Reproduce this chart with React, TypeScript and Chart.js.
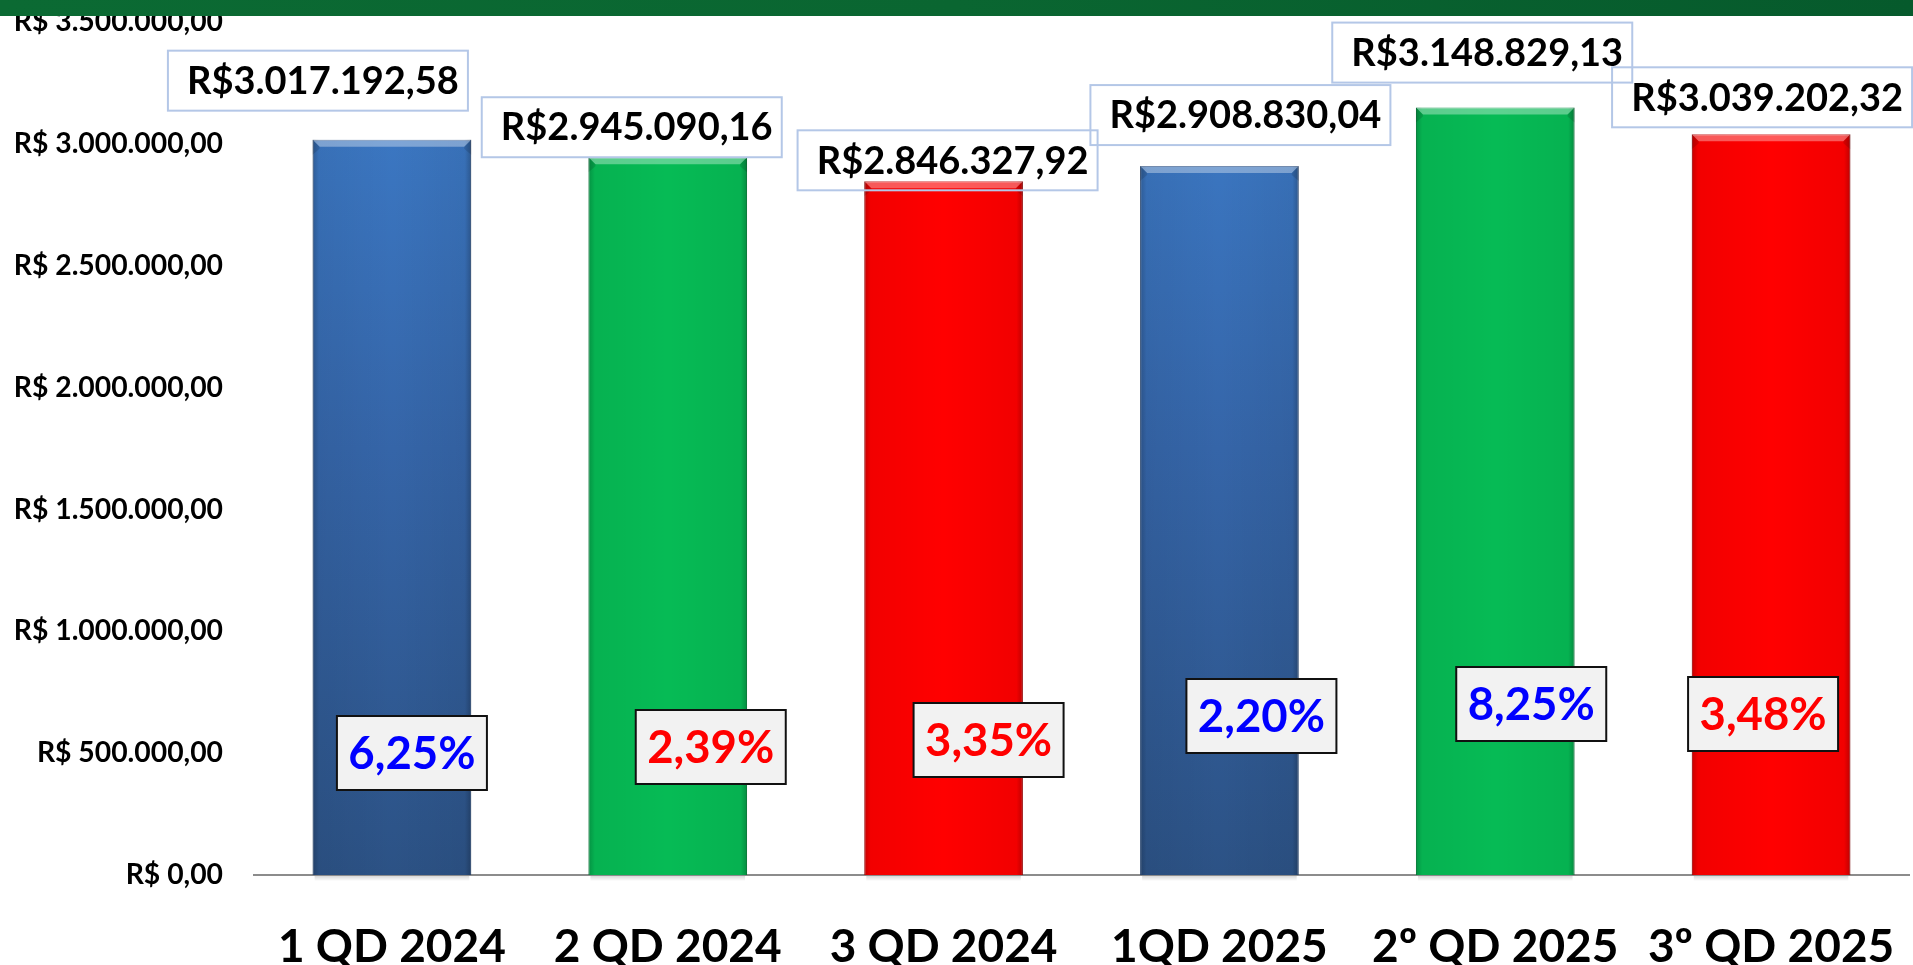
import React, { useEffect, useRef } from "react";
import { Chart, registerables } from "chart.js";

Chart.register(...registerables);

// ---- data ----
const categories = ["1 QD 2024", "2 QD 2024", "3 QD 2024", "1QD 2025", "2º QD 2025", "3º QD 2025"];
const values = [3017192.58, 2945090.16, 2846327.92, 2908830.04, 3148829.13, 3039202.32];
const percentLabels = ["6,25%", "2,39%", "3,35%", "2,20%", "8,25%", "3,48%"];
const percentColors = ["#0000ff", "#ff0000", "#ff0000", "#0000ff", "#0000ff", "#ff0000"];
const barKinds = ["blue", "green", "red", "blue", "green", "red"];
const yMin = 0;
const yMax = 3500000;
const yStep = 500000;

// ---- layout (px offsets of the annotation boxes relative to each bar) ----
const valueLabelOffsets = [[-74, -59], [-36, -30], [4, -21], [21, -51], [-13, -55], [-9, -37]];
const percentLabelOffsets = [[20, -122], [43, -128], [45, -135], [42, -159], [36, -171], [-8, -161]];

const FONT = "Lato, 'Liberation Sans', sans-serif";

function fmtBRL(n: number, space: boolean): string {
  const fixed = n.toFixed(2);
  const [intPart, dec] = fixed.split(".");
  const dotted = intPart.replace(/\B(?=(\d{3})+(?!\d))/g, ".");
  return "R$" + (space ? " " : "") + dotted + "," + dec;
}

const fillFor: Record<string, string> = { blue: "#3a72bb", green: "#06bb55", red: "#ff0000" };
const edgeFor: Record<string, string> = { blue: "#2a5188", green: "#049a45", red: "#c80000" };

const decorPlugin = {
  id: "decor",
  afterDatasetsDraw(chart: any) {
    const ctx: CanvasRenderingContext2D = chart.ctx;
    const meta = chart.getDatasetMeta(0);
    meta.data.forEach((bar: any) => {
      const { x, y, base, width } = bar.getProps(["x", "y", "base", "width"], true);
      const left = x - width / 2;
      const right = x + width / 2;
      const b = 7;
      ctx.save();
      const sideGrad = ctx.createLinearGradient(left, 0, right, 0);
      sideGrad.addColorStop(0, "rgba(0,0,0,0.22)");
      sideGrad.addColorStop(0.04, "rgba(0,0,0,0.05)");
      sideGrad.addColorStop(0.5, "rgba(0,0,0,0)");
      sideGrad.addColorStop(0.96, "rgba(0,0,0,0.05)");
      sideGrad.addColorStop(1, "rgba(0,0,0,0.25)");
      ctx.fillStyle = sideGrad;
      ctx.fillRect(left, y, width, base - y);
      ctx.fillStyle = "rgba(255,255,255,0.35)";
      ctx.beginPath();
      ctx.moveTo(left, y);
      ctx.lineTo(right, y);
      ctx.lineTo(right - b, y + b);
      ctx.lineTo(left + b, y + b);
      ctx.closePath();
      ctx.fill();
      ctx.fillStyle = "rgba(0,0,0,0.12)";
      ctx.beginPath();
      ctx.moveTo(left, y);
      ctx.lineTo(left + b, y + b);
      ctx.lineTo(left + b, y + b + 2);
      ctx.lineTo(left, y + b + 8);
      ctx.closePath();
      ctx.fill();
      ctx.beginPath();
      ctx.moveTo(right, y);
      ctx.lineTo(right - b, y + b);
      ctx.lineTo(right - b, y + b + 2);
      ctx.lineTo(right, y + b + 8);
      ctx.closePath();
      ctx.fill();
      const sh = ctx.createLinearGradient(0, base, 0, base + 6);
      sh.addColorStop(0, "rgba(0,0,0,0.18)");
      sh.addColorStop(1, "rgba(0,0,0,0)");
      ctx.fillStyle = sh;
      ctx.fillRect(left + 2, base + 1, width - 4, 6);
      ctx.restore();
    });

    // value labels
    meta.data.forEach((bar: any, i: number) => {
      const { x, y } = bar.getProps(["x", "y"], true);
      const cx = x + valueLabelOffsets[i][0];
      const cy = y + valueLabelOffsets[i][1];
      const w = 300;
      const h = 60;
      ctx.save();
      ctx.strokeStyle = "#b4c7e7";
      ctx.lineWidth = 2;
      ctx.strokeRect(cx - w / 2, cy - h / 2, w, h);
      ctx.fillStyle = "#000000";
      ctx.font = `bold 38px ${FONT}`;
      ctx.textAlign = "center";
      ctx.textBaseline = "middle";
      ctx.fillText(fmtBRL(values[i], false), cx + 5, cy + 1);
      ctx.restore();
    });

    // percent labels
    meta.data.forEach((bar: any, i: number) => {
      const { x, base } = bar.getProps(["x", "base"], true);
      const cx = x + percentLabelOffsets[i][0];
      const cy = base + percentLabelOffsets[i][1];
      const w = 150;
      const h = 74;
      ctx.save();
      ctx.fillStyle = "#f2f2f2";
      ctx.fillRect(cx - w / 2, cy - h / 2, w, h);
      ctx.strokeStyle = "#111111";
      ctx.lineWidth = 2;
      ctx.strokeRect(cx - w / 2, cy - h / 2, w, h);
      ctx.fillStyle = percentColors[i];
      ctx.font = `bold 45.5px ${FONT}`;
      ctx.textAlign = "center";
      ctx.textBaseline = "middle";
      ctx.fillText(percentLabels[i], cx, cy + 1);
      ctx.restore();
    });
  },
  afterDraw(chart: any) {
    const ctx: CanvasRenderingContext2D = chart.ctx;
    const g = ctx.createLinearGradient(0, 0, chart.width, 0);
    g.addColorStop(0, "#0b6a33");
    g.addColorStop(0.5, "#0a6631");
    g.addColorStop(1, "#065a2c");
    ctx.save();
    ctx.fillStyle = g;
    ctx.fillRect(0, 0, chart.width, 16);
    ctx.restore();
  },
};

export default function App() {
  const canvasRef = useRef<HTMLCanvasElement | null>(null);

  useEffect(() => {
    document.body.style.margin = "0";
    document.body.style.overflow = "hidden";
    const canvas = canvasRef.current;
    if (!canvas) return;

    const bg = (c: any) => {
      const kind = barKinds[c.dataIndex];
      if (kind === "blue") {
        const area = c.chart.chartArea;
        if (!area) return fillFor.blue;
        const g = c.chart.ctx.createLinearGradient(0, area.top, 0, area.bottom);
        g.addColorStop(0, "#3d7dcb");
        g.addColorStop(0.5, "#3565a8");
        g.addColorStop(1, "#2c5285");
        return g;
      }
      return fillFor[kind];
    };

    const chart = new Chart(canvas, {
      type: "bar",
      data: {
        labels: categories,
        datasets: [
          {
            data: values,
            backgroundColor: bg,
            borderColor: barKinds.map((k) => edgeFor[k]),
            borderWidth: 1,
            categoryPercentage: 1,
            barPercentage: 0.575,
          },
        ],
      },
      options: {
        responsive: false,
        animation: false,
        events: [],
        layout: { padding: { top: 22, right: 4, left: 0, bottom: 0 } },
        plugins: {
          legend: { display: false },
          tooltip: { enabled: false },
          title: { display: false },
        },
        scales: {
          x: {
            grid: { display: false },
            border: { display: true, color: "#8c8c8c", width: 2 },
            ticks: {
              color: "#000000",
              font: { family: FONT, size: 46, weight: "bold" },
              padding: 37,
              maxRotation: 0,
              autoSkip: false,
            },
            afterFit: (s: any) => {
              s.height = 90;
              s.paddingLeft = 0;
              s.paddingRight = 0;
            },
          },
          y: {
            min: yMin,
            max: yMax,
            grid: { display: false, drawTicks: false },
            border: { display: false },
            ticks: {
              stepSize: yStep,
              color: "#000000",
              font: { family: FONT, size: 28.3, weight: "bold" },
              padding: 31,
              callback: (v: any) => fmtBRL(Number(v), true),
            },
            afterFit: (s: any) => {
              s.width = 254;
              s.paddingTop = 0;
              s.paddingBottom = 0;
            },
          },
        },
      },
      plugins: [decorPlugin],
    });

    return () => {
      chart.destroy();
    };
  }, []);

  return (
    <div style={{ width: 1913, height: 965, background: "#ffffff" }}>
      <canvas ref={canvasRef} width={1913} height={965} style={{ display: "block" }} />
    </div>
  );
}
